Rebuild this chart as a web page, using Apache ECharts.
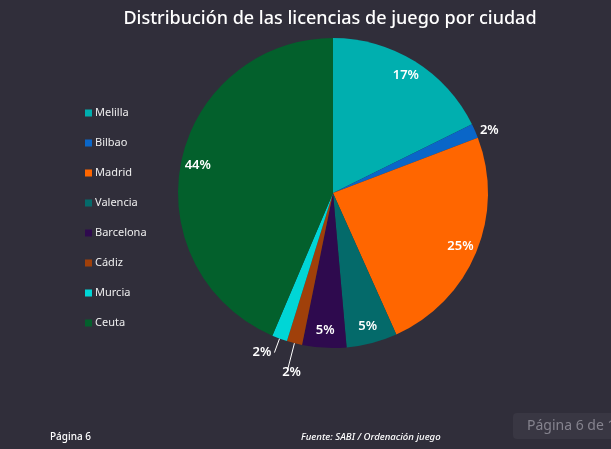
<!DOCTYPE html>
<html>
<head>
<meta charset="utf-8">
<script src="https://cdn.jsdelivr.net/npm/echarts@6/dist/echarts.min.js"></script>
<style>
  html, body { margin: 0; padding: 0; background: #302e3a; }
  #chart { width: 611px; height: 449px; }
</style>
</head>
<body>
<div id="chart"></div>
<script>
// data
const cities = ["Melilla", "Bilbao", "Madrid", "Valencia", "Barcelona", "Cádiz", "Murcia", "Ceuta"];
const shares = [17.7, 1.5, 24.1, 5.3, 4.6, 1.6, 1.6, 43.6];
const pctLabels = ["17%", "2%", "25%", "5%", "5%", "2%", "2%", "44%"];
const cityColors = ["#00afaf", "#0a66c8", "#ff6600", "#046a6a", "#2e0a4e", "#a0400a", "#00d6d6", "#03602c"];
// which slices get an outside label
const outsideLabel = [false, true, false, false, false, true, true, false];

const chart = echarts.init(document.getElementById("chart"));

const font = "'Noto Sans', 'Open Sans', sans-serif";

const labelStyle = {
  color: "#fff",
  fontFamily: font,
  fontSize: 13,
  fontWeight: 600,
  formatter: (p) => pctLabels[p.dataIndex],
};

// small slices: label outside with short lines
const lineLen = { 1: 2, 5: 30, 6: 15 };
const mainData = cities.map((name, i) => ({
  name,
  value: shares[i],
  itemStyle: { color: cityColors[i] },
  label: { show: outsideLabel[i], distanceToLabelLine: 3 },
  labelLine: {
    show: outsideLabel[i] && i !== 1,
    length: lineLen[i] || 4,
    length2: 0,
    lineStyle: { color: "#fff", width: 1 },
  },
}));

// big slices: labels near the rim, via a transparent ring
const ringData = cities.map((name, i) => ({
  name,
  value: shares[i],
  label: { show: !outsideLabel[i] },
}));

const options = {
  backgroundColor: "#302e3a",
  animation: false,
  title: {
    text: "Distribución de las licencias de juego por ciudad",
    left: 325,
    textAlign: "center",
    top: 5,
    textStyle: {
      color: "#fff",
      fontFamily: font,
      fontWeight: 500,
      fontSize: 18,
    },
  },
  legend: {
    orient: "vertical",
    left: 80,
    top: 101,
    itemWidth: 7,
    itemHeight: 7,
    itemGap: 16,
    icon: "rect",
    data: cities,
    textStyle: {
      color: "#eeeeee",
      fontFamily: font,
      fontSize: 11,
      lineHeight: 14,
      padding: [0, 0, 0, -2],
    },
  },
  series: [
    {
      type: "pie",
      center: [333, 193],
      radius: 155,
      startAngle: 90,
      clockwise: true,
      avoidLabelOverlap: false,
      label: Object.assign({ position: "outside" }, labelStyle),
      // the Cádiz label hangs straight below its slice
      labelLayout: (p) => (p.dataIndex === 5 ? { dx: 17 } : {}),
      data: mainData,
    },
    {
      type: "pie",
      center: [333, 193],
      radius: [116, 154],
      startAngle: 90,
      clockwise: true,
      silent: true,
      itemStyle: { color: "transparent" },
      label: Object.assign({ position: "inside" }, labelStyle),
      labelLine: { show: false },
      data: ringData,
    },
  ],
  graphic: [
    {
      type: "text",
      left: 50,
      top: 432,
      style: { text: "Página 6", fill: "#fff", font: "500 10px " + font },
    },
    {
      type: "text",
      left: 301,
      top: 432,
      style: { text: "Fuente: SABI / Ordenación juego", fill: "#fff", font: "italic 500 9.6px " + font },
    },
    {
      type: "rect",
      shape: { x: 513, y: 413, width: 110, height: 26, r: 4 },
      style: { fill: "#393743" },
    },
    {
      type: "text",
      left: 527,
      top: 419,
      style: { text: "Página 6 de 12", fill: "#85838e", font: "14px " + font },
    },
  ],
};

chart.setOption(options);
</script>
</body>
</html>
